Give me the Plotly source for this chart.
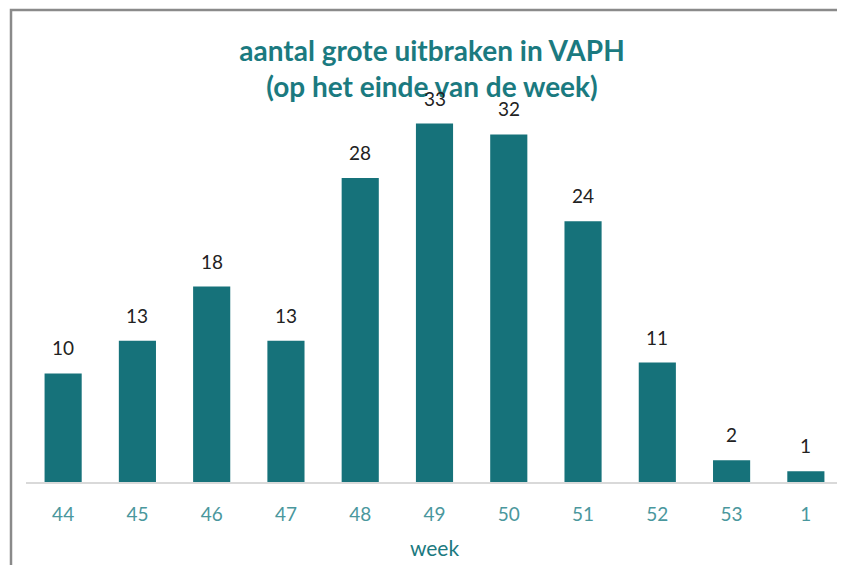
import plotly.graph_objects as go

weeks = ["44", "45", "46", "47", "48", "49", "50", "51", "52", "53", "1"]
outbreaks = [10, 13, 18, 13, 28, 33, 32, 24, 11, 2, 1]

BAR = "#16727A"
TEAL = "#1B7A80"
TICK = "#4A979D"

fig = go.Figure()
fig.add_trace(go.Bar(x=list(range(len(weeks))), y=outbreaks,
                     marker=dict(color=BAR, line=dict(width=0)),
                     customdata=weeks, hovertemplate="week %{customdata}: %{y}<extra></extra>"))

for i, v in enumerate(outbreaks):
    fig.add_annotation(x=i, y=v, text=str(v), showarrow=False, yanchor="bottom",
                       yshift=12, font=dict(family="Lato", size=19, color="#222222"))

W, H = 845, 565
L, R, T, B = 18, 10, 83, 91
pw, ph = W - L - R, H - T - B

fig.add_shape(type="rect", xref="paper", yref="paper",
              x0=(3 - L) / pw, x1=1.2, y0=-0.5, y1=(H - B - 2) / ph,
              line=dict(color="#8A8A8A", width=2.5), fillcolor="rgba(0,0,0,0)", layer="below")

fig.update_layout(
    width=W, height=H,
    margin=dict(l=L, r=R, t=T, b=B),
    paper_bgcolor="white", plot_bgcolor="white",
    bargap=0.5, showlegend=False,
    title=dict(text="<b>aantal grote uitbraken in VAPH<br>(op het einde van de week)</b>",
               x=(432 - 8) / W, xanchor="center", y=1 - 53 / H, yanchor="top",
               font=dict(family="Lato", size=28, color=TEAL)),
    xaxis=dict(tickmode="array", tickvals=list(range(len(weeks))), ticktext=weeks,
               range=[-0.5, len(weeks) - 0.5],
               showline=True, linecolor="#D9D9D9", linewidth=2,
               showgrid=False, zeroline=False, ticks="", ticklabelstandoff=14,
               tickfont=dict(family="Lato", size=19, color=TICK),
               title=dict(text="week", font=dict(family="Lato", size=21, color=TEAL), standoff=18)),
    yaxis=dict(range=[0, 36], visible=False, showgrid=False, zeroline=False),
)

fig.write_html("out.html")
